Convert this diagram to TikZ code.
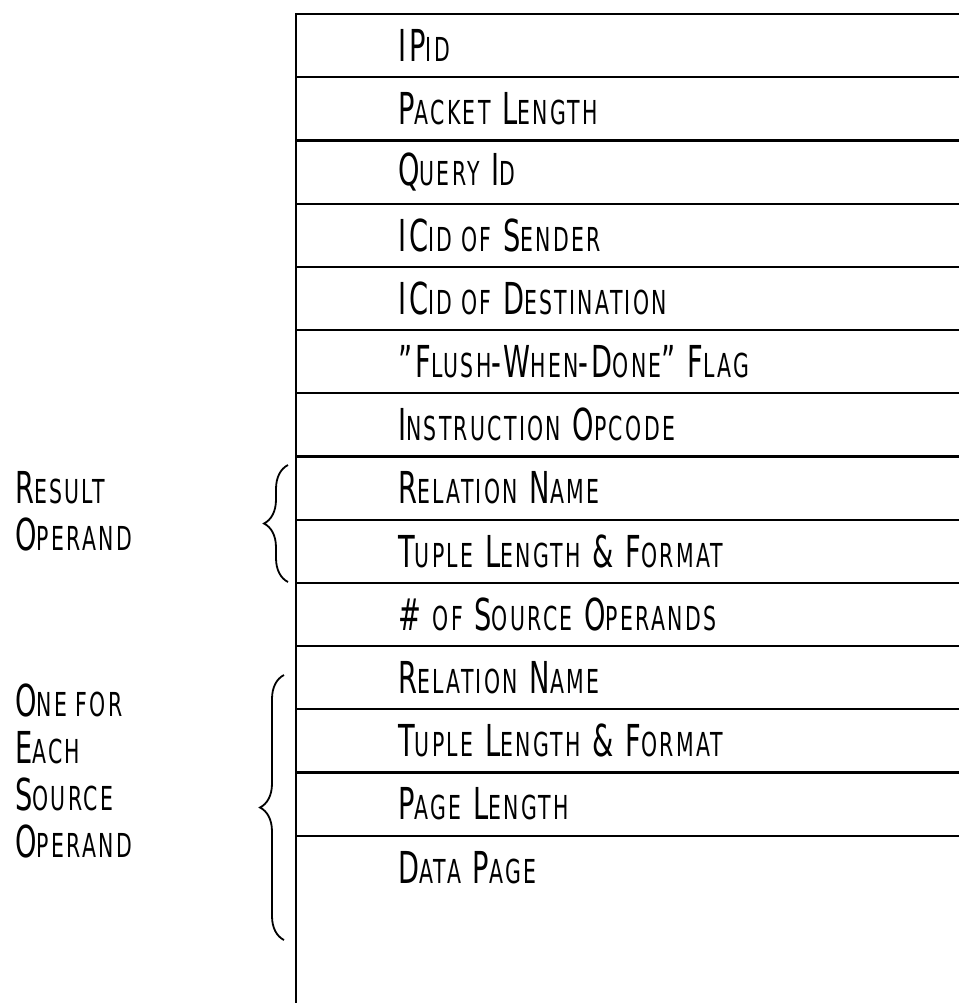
\documentclass[tikz,border=0pt]{standalone}
\usepackage{fontspec}
\setmainfont{DejaVu Sans}[FakeStretch=0.62, LetterSpace=7]
\usetikzlibrary{decorations.pathreplacing}
\newcommand\sm[1]{{\fontsize{16.5}{19}\selectfont\uppercase{#1}}}

\begin{document}
\begin{tikzpicture}[x=0.5pt, y=-0.5pt, line width=1.1pt,
  every node/.style = {font=\fontsize{22}{23.5}\selectfont, inner sep=0pt},
  field/.style = {anchor=west},
  side/.style = {anchor=west, align=left},
  curly/.style = {decorate, decoration={brace, amplitude=12pt}, line width=0.9pt}]
  \useasboundingbox (0,0) rectangle (959,1003);
  % frame of the packet
  \draw (959,14) -- (296,14) -- (296,1003);
  \foreach \i in {1,...,13}
    \draw (296,{14+63.2*\i}) -- (959,{14+63.2*\i});
  % fields
  \foreach \lbl [count=\i] in {IP\sm{id}, P\sm{acket} L\sm{ength}, Q\sm{uery} I\sm{d},
      IC\sm{id of} S\sm{ender}, IC\sm{id of} D\sm{estination},
      "F\sm{lush}-W\sm{hen}-D\sm{one}" F\sm{lag}, I\sm{nstruction} O\sm{pcode},
      R\sm{elation} N\sm{ame}, T\sm{uple} L\sm{ength} \& F\sm{ormat},
      \# \sm{of} S\sm{ource} O\sm{perands}, R\sm{elation} N\sm{ame},
      T\sm{uple} L\sm{ength} \& F\sm{ormat}, P\sm{age} L\sm{ength}, D\sm{ata} P\sm{age}}
    \node[field] (f\i) at (397,{14+63.2*(\i-0.5)}) {\lbl};
  % operand groups
  \draw[curly] (288,582) -- (288,465);
  \node[side] (result) at (14,511) {R\sm{esult}\\O\sm{perand}};
  \draw[curly] (284,940) -- (284,675);
  \node[side] (source) at (14,771) {O\sm{ne for}\\E\sm{ach}\\S\sm{ource}\\O\sm{perand}};
\end{tikzpicture}
\end{document}
